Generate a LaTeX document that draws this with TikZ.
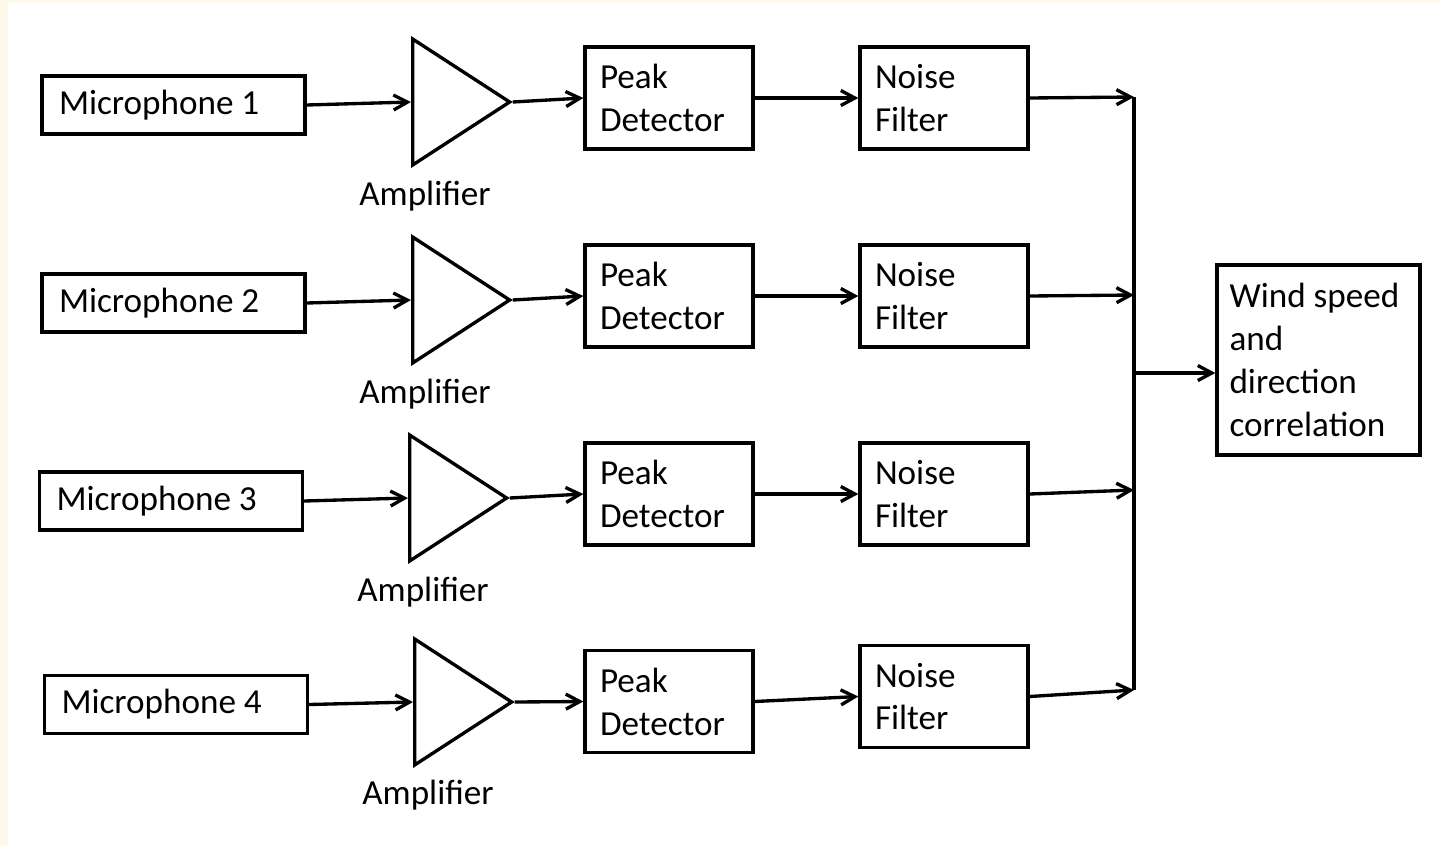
\documentclass[tikz,border=0pt]{standalone}
\usepackage{fontspec}
\setmainfont{Carlito}
\usepackage{xcolor}
\usepackage{tikz}
\usetikzlibrary{shapes.geometric, arrows.meta, positioning, calc}

\definecolor{cream}{HTML}{FFF9EC}

\begin{document}
\begin{tikzpicture}[
        x=0.02cm, y=-0.02cm,
        font=\fontsize{20}{24.4}\selectfont,
        mic/.style={rectangle, draw, line width=1.9pt, minimum height=1.16cm, text width=4.58cm, inner xsep=0.34cm, align=flush left},
        block/.style={rectangle, draw, line width=1.9pt, minimum height=2.04cm, text width=2.76cm, inner xsep=0.3cm, align=flush left},
        amp/.style={isosceles triangle, isosceles triangle apex angle=66, draw, line width=1.9pt, minimum height=1.94cm, inner sep=0pt, anchor=lower side},
        amplabel/.style={inner sep=0pt},
        arrow/.style={-{Straight Barb[length=0.28cm, width=0.3cm]}, line width=1.9pt}
    ]
        % background
        \fill[cream] (0,0) rectangle (1441,846);
        \fill[white] (8,3) rectangle (1441,846);
        \useasboundingbox (0,0) rectangle (1441,846);

        % row 1
        \node[mic] (mic1) at (173.5,105) {Microphone 1};
        \node[amp] (amp1) at (411,102) {};
        \node[amplabel] (lbl1) at (425,196) {Amplifier};
        \node[block] (peak1) at (669,98) {Peak\\Detector};
        \node[block] (noise1) at (944,98) {Noise\\Filter};

        % row 2
        \node[mic] (mic2) at (173.5,303) {Microphone 2};
        \node[amp] (amp2) at (411,300) {};
        \node[amplabel] (lbl2) at (425,394) {Amplifier};
        \node[block] (peak2) at (669,296) {Peak\\Detector};
        \node[block] (noise2) at (944,296) {Noise\\Filter};

        % row 3
        \node[mic] (mic3) at (171,501) {Microphone 3};
        \node[amp] (amp3) at (408,498) {};
        \node[amplabel] (lbl3) at (423,592) {Amplifier};
        \node[block] (peak3) at (669,494) {Peak\\Detector};
        \node[block] (noise3) at (944,494) {Noise\\Filter};

        % row 4
        \node[mic] (mic4) at (176,704.5) {Microphone 4};
        \node[amp] (amp4) at (413,702) {};
        \node[amplabel] (lbl4) at (428,795) {Amplifier};
        \node[block] (peak4) at (669,701.5) {Peak\\Detector};
        \node[block] (noise4) at (944,696.5) {Noise\\Filter};

        % output
        \node[block, minimum height=3.8cm, text width=3.56cm, inner xsep=0.25cm] (wind) at (1318.5,360) {Wind speed\\and\\direction\\correlation};

        % bus
        \coordinate (bus1) at (1134,97);
        \coordinate (bus2) at (1134,295);
        \coordinate (bus3) at (1134,490);
        \coordinate (bus4) at (1134,690);
        \coordinate (busout) at (1134,373);

        % signal chains
        \draw[arrow] (mic1.east) -- (amp1.lower side);
        \draw[arrow] (amp1.apex) -- (peak1.west);
        \draw[arrow] (peak1.east) -- (noise1.west);
        \draw[arrow] (noise1.east) -- (bus1);

        \draw[arrow] (mic2.east) -- (amp2.lower side);
        \draw[arrow] (amp2.apex) -- (peak2.west);
        \draw[arrow] (peak2.east) -- (noise2.west);
        \draw[arrow] (noise2.east) -- (bus2);

        \draw[arrow] (mic3.east) -- (amp3.lower side);
        \draw[arrow] (amp3.apex) -- (peak3.west);
        \draw[arrow] (peak3.east) -- (noise3.west);
        \draw[arrow] (noise3.east) -- (bus3);

        \draw[arrow] (mic4.east) -- (amp4.lower side);
        \draw[arrow] (amp4.apex) -- (peak4.west);
        \draw[arrow] (peak4.east) -- (noise4.west);
        \draw[arrow] (noise4.east) -- (bus4);

        \draw[line width=1.9pt] (bus1) -- (bus4);
        \draw[arrow] (busout) -- (busout -| wind.west);
    \end{tikzpicture}
\end{document}
